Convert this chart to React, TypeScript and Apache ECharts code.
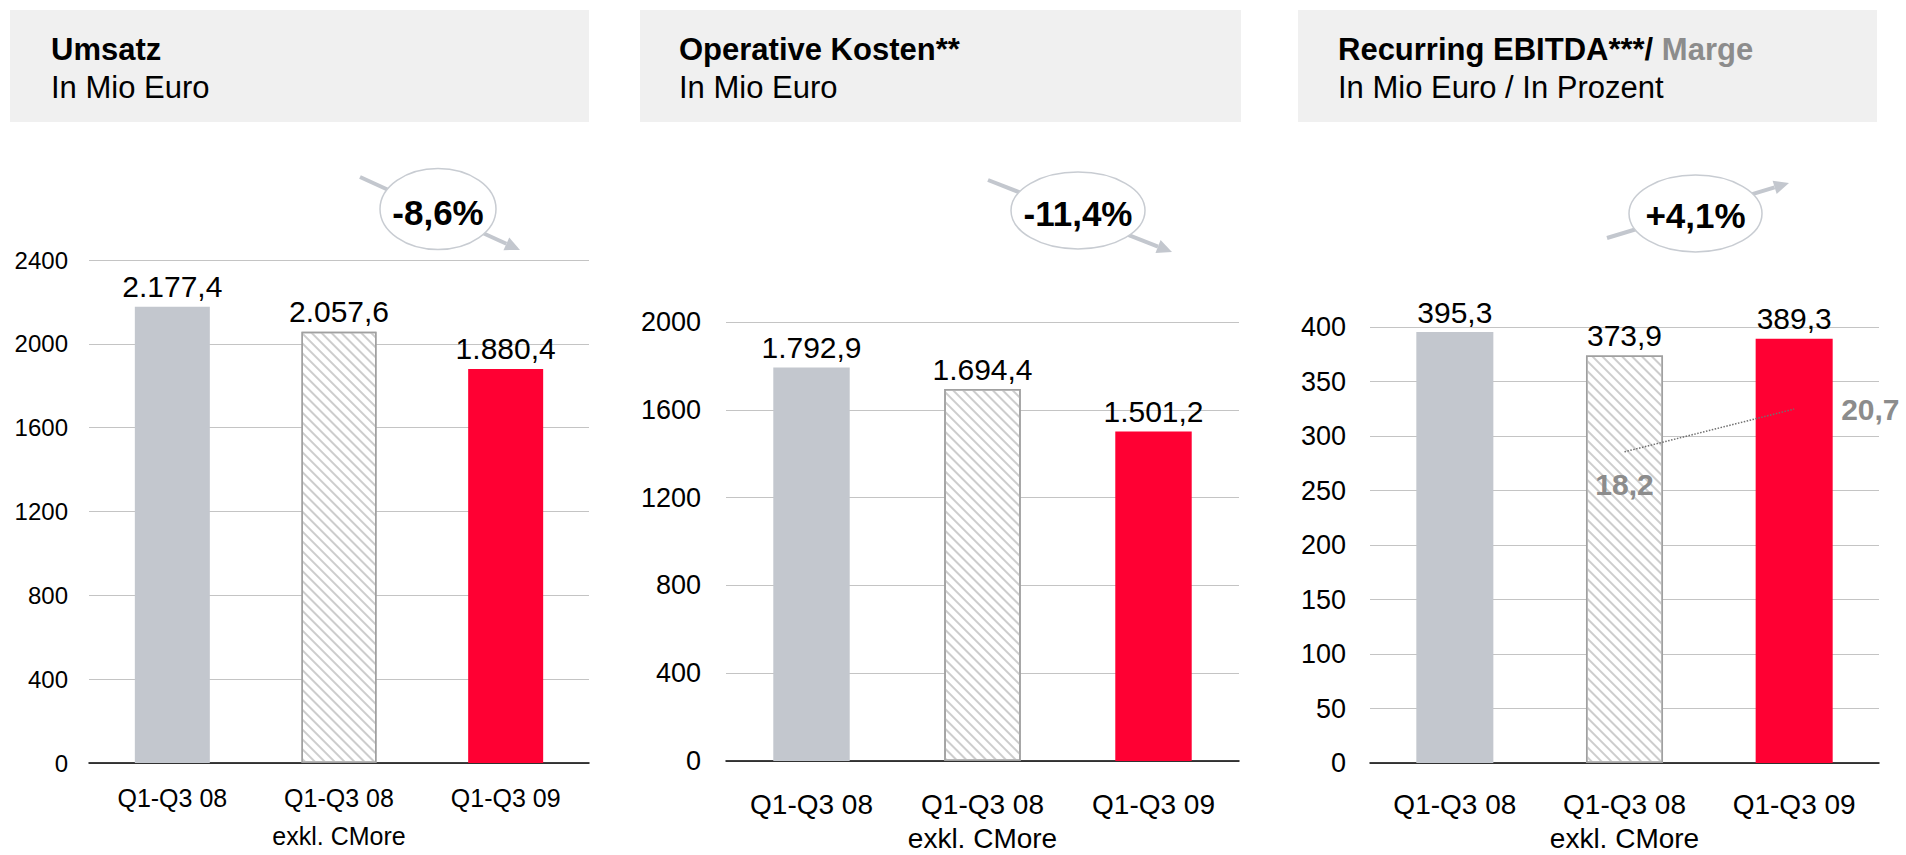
import React, { useEffect, useRef } from "react";
import * as echarts from "echarts";

const categories = ["Q1-Q3 08", "Q1-Q3 08\nexkl. CMore", "Q1-Q3 09"];
const umsatz = [2177.4, 2057.6, 1880.4];
const kosten = [1792.9, 1694.4, 1501.2];
const ebitda = [395.3, 373.9, 389.3];
const marge: (number | null)[] = [null, 18.2, 20.7];
const changes = ["-8,6%", "-11,4%", "+4,1%"];
const titles = ["Umsatz", "Operative Kosten**", "Recurring EBITDA***/ "];
const subtitles = ["In Mio Euro", "In Mio Euro", "In Mio Euro / In Prozent"];

const FONT = "'Liberation Sans', Arial, Helvetica, sans-serif";
const GRAY = "#c3c7ce";
const RED = "#ff0033";

function fmt(v: number): string {
  const [i, d] = v.toFixed(1).split(".");
  return i.replace(/\B(?=(\d{3})+(?!\d))/g, ".") + "," + d;
}

const hatch = {
  symbol: "rect",
  symbolSize: 1,
  color: "#cdcdcd",
  dashArrayX: [1, 0],
  dashArrayY: [1.3, 4.5],
  rotation: Math.PI / 4,
};

function barItems(values: number[]) {
  return values.map((v, i) => ({
    value: v,
    itemStyle:
      i === 0
        ? { color: GRAY }
        : i === 1
        ? { color: "#ffffff", borderColor: "#a0a0a0", borderWidth: 1.5, decal: hatch }
        : { color: RED },
  }));
}

function arrow(x1: number, y1: number, x2: number, y2: number) {
  const dx = x2 - x1;
  const dy = y2 - y1;
  const len = Math.sqrt(dx * dx + dy * dy);
  const ux = dx / len;
  const uy = dy / len;
  const hl = 15;
  const hw = 7;
  const bx = x2 - ux * hl;
  const by = y2 - uy * hl;
  return [
    {
      type: "line",
      shape: { x1, y1, x2: bx, y2: by },
      style: { stroke: GRAY, lineWidth: 4 },
    },
    {
      type: "polygon",
      shape: {
        points: [
          [x2, y2],
          [bx - uy * hw, by + ux * hw],
          [bx + uy * hw, by - ux * hw],
        ],
      },
      style: { fill: GRAY },
    },
  ];
}

export default function App() {
  const ref = useRef<HTMLDivElement>(null);
  useEffect(() => {
    if (!ref.current) return;
    const chart = echarts.init(ref.current, undefined, { renderer: "svg" });

    const grids = [
      { left: 89, width: 500, top: 260, height: 509 },
      { left: 726, width: 513, top: 322, height: 447 },
      { left: 1370, width: 509, top: 327, height: 444 },
    ];
    const tickFont = [24, 27, 27];
    const tickMargin = [21, 25, 24];
    const catFont = [25, 28, 28];
    const catLine = [38, 34, 34];
    const catMargin = [16, 26, 24];
    const yMax = [2400, 2000, 400];
    const yInt = [400, 400, 50];
    const barW = ["45%", "44.7%", "45.4%"];

    const xAxis = grids.map((_, i) => ({
      type: "category",
      gridIndex: i,
      data: categories,
      axisLine: { lineStyle: { color: "#000", width: 1.5 } },
      axisTick: { show: false },
      axisLabel: {
        color: "#000",
        fontFamily: FONT,
        fontSize: catFont[i],
        lineHeight: catLine[i],
        margin: catMargin[i],
        interval: 0,
      },
    }));

    const yAxis: any[] = grids.map((_, i) => ({
      type: "value",
      gridIndex: i,
      min: 0,
      max: yMax[i],
      interval: yInt[i],
      axisLine: { show: false },
      axisTick: { show: false },
      splitLine: { lineStyle: { color: "#c4c4c4", width: 1.2 } },
      axisLabel: {
        color: "#000",
        fontFamily: FONT,
        fontSize: tickFont[i],
        margin: tickMargin[i],
        formatter: (v: number) => String(v),
      },
    }));
    yAxis.push({
      type: "value",
      gridIndex: 2,
      min: 0,
      max: 25.5,
      show: false,
      splitLine: { show: false },
    });

    const barData = [umsatz, kosten, ebitda];
    const series: any[] = barData.map((vals, i) => ({
      type: "bar",
      xAxisIndex: i,
      yAxisIndex: i,
      barWidth: barW[i],
      data: barItems(vals),
      label: {
        show: true,
        position: "top",
        distance: 5,
        color: "#000",
        fontFamily: FONT,
        fontSize: 30,
        formatter: (p: any) => fmt(p.value),
      },
    }));
    series.push({
      type: "line",
      xAxisIndex: 2,
      yAxisIndex: 3,
      data: marge.map((v, i) =>
        v === null
          ? null
          : {
              value: v,
              label:
                i === 1
                  ? { position: "bottom", distance: 17 }
                  : { position: "right", distance: 46 },
            }
      ),
      symbol: "circle",
      symbolSize: 2,
      showSymbol: true,
      itemStyle: { color: "rgba(0,0,0,0)" },
      lineStyle: { color: "#707070", width: 1.5, type: "dotted" },
      label: {
        show: true,
        color: "#8c8c8c",
        fontFamily: FONT,
        fontSize: 30,
        fontWeight: "bold",
        formatter: (p: any) => String(p.value).replace(".", ","),
      },
      z: 5,
    });

    const headers = [
      { x: 10, w: 579, tx: 51 },
      { x: 640, w: 601, tx: 679 },
      { x: 1298, w: 579, tx: 1338 },
    ];
    const graphics: any[] = [];
    headers.forEach((h, i) => {
      graphics.push({
        type: "rect",
        shape: { x: h.x, y: 10, width: h.w, height: 112 },
        style: { fill: "#f0f0f0" },
      });
      graphics.push({
        type: "text",
        style: {
          x: h.tx,
          y: 49.5,
          text: i === 2 ? "{a|" + titles[i] + "}{b|Marge}" : titles[i],
          font: "bold 31px " + FONT,
          fill: "#000",
          verticalAlign: "middle",
          rich:
            i === 2
              ? {
                  a: { fontFamily: FONT, fontSize: 31, fontWeight: "bold", fill: "#000" },
                  b: { fontFamily: FONT, fontSize: 31, fontWeight: "bold", fill: "#8c8c8c" },
                }
              : undefined,
        },
      });
      graphics.push({
        type: "text",
        style: {
          x: h.tx,
          y: 87.5,
          text: subtitles[i],
          font: "31px " + FONT,
          fill: "#000",
          verticalAlign: "middle",
        },
      });
    });

    const bubbles = [
      { a: [360, 177, 520, 250], cx: 438, cy: 209, rx: 58, ry: 40.5, ty: 212 },
      { a: [988, 180, 1172, 252], cx: 1078, cy: 210.5, rx: 67, ry: 38.5, ty: 213 },
      { a: [1607, 238, 1789, 183], cx: 1695.5, cy: 213.5, rx: 66.5, ry: 38.5, ty: 215 },
    ];
    bubbles.forEach((b, i) => {
      arrow(b.a[0], b.a[1], b.a[2], b.a[3]).forEach((g) => graphics.push(g));
      graphics.push({
        type: "ellipse",
        shape: { cx: b.cx, cy: b.cy, rx: b.rx, ry: b.ry },
        style: { fill: "#fff", stroke: "#c8ccd2", lineWidth: 1.5 },
      });
      graphics.push({
        type: "text",
        style: {
          x: b.cx,
          y: b.ty,
          text: changes[i],
          font: "bold 35px " + FONT,
          fill: "#000",
          align: "center",
          verticalAlign: "middle",
        },
      });
    });

    chart.setOption({
      animation: false,
      backgroundColor: "#fff",
      grid: grids.map((g) => ({ ...g, containLabel: false })),
      xAxis,
      yAxis,
      series,
      graphic: { elements: graphics },
    });
    return () => chart.dispose();
  }, []);

  return (
    <div
      ref={ref}
      style={{ position: "fixed", left: 0, top: 0, width: 1906, height: 855 }}
    />
  );
}
